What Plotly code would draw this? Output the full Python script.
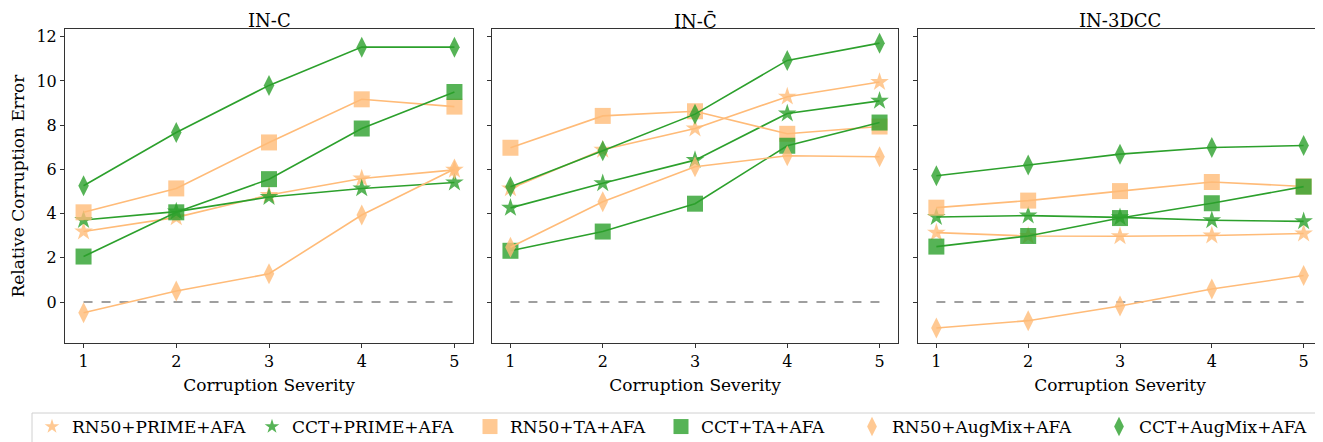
import plotly.graph_objects as go

# Reference canvas size; the page body adds an 8px offset, so the figure is
# sized to fill the remaining viewport and positions are given in reference px.
W, H = 1323, 442
OFF = 8
WF, HF = W - OFF, H - OFF

severity = [1, 2, 3, 4, 5]
tick_vals = [0, 2, 4, 6, 8, 10, 12]
tick_text = ["0", "2", "4", "6", "8", "10", "12"]
panel_titles = ["IN-C", "IN-C\u0304", "IN-3DCC"]
x_label = "Corruption Severity"
y_label = "Relative Corruption Error"

series_names = ["RN50+PRIME+AFA", "CCT+PRIME+AFA", "RN50+TA+AFA",
                "CCT+TA+AFA", "RN50+AugMix+AFA", "CCT+AugMix+AFA"]

# IN-C
inc_rn50_prime = [3.19, 3.83, 4.84, 5.59, 5.98]
inc_cct_prime = [3.71, 4.09, 4.75, 5.14, 5.41]
inc_rn50_ta = [4.06, 5.14, 7.22, 9.17, 8.84]
inc_cct_ta = [2.06, 4.06, 5.56, 7.85, 9.50]
inc_rn50_augmix = [-0.48, 0.50, 1.28, 3.94, 6.02]
inc_cct_augmix = [5.26, 7.67, 9.80, 11.53, 11.53]

# IN-C-bar
incbar_rn50_prime = [5.14, 6.89, 7.85, 9.29, 9.95]
incbar_cct_prime = [4.26, 5.37, 6.42, 8.53, 9.10]
incbar_rn50_ta = [6.98, 8.42, 8.63, 7.61, 7.94]
incbar_cct_ta = [2.32, 3.19, 4.45, 7.07, 8.12]
incbar_rn50_augmix = [2.48, 4.54, 6.12, 6.62, 6.57]
incbar_cct_augmix = [5.22, 6.84, 8.50, 10.93, 11.71]

# IN-3DCC
in3dcc_rn50_prime = [3.14, 2.99, 2.98, 3.01, 3.10]
in3dcc_cct_prime = [3.85, 3.91, 3.83, 3.70, 3.65]
in3dcc_rn50_ta = [4.27, 4.59, 5.02, 5.43, 5.23]
in3dcc_cct_ta = [2.51, 2.99, 3.80, 4.47, 5.22]
in3dcc_rn50_augmix = [-1.17, -0.84, -0.18, 0.59, 1.20]
in3dcc_cct_augmix = [5.71, 6.20, 6.69, 6.99, 7.08]

baseline = [0, 0, 0, 0, 0]

panels = [
    [inc_rn50_prime, inc_cct_prime, inc_rn50_ta, inc_cct_ta, inc_rn50_augmix, inc_cct_augmix],
    [incbar_rn50_prime, incbar_cct_prime, incbar_rn50_ta, incbar_cct_ta, incbar_rn50_augmix, incbar_cct_augmix],
    [in3dcc_rn50_prime, in3dcc_cct_prime, in3dcc_rn50_ta, in3dcc_cct_ta, in3dcc_rn50_augmix, in3dcc_cct_augmix],
]

ORANGE = "#ffbb78"
GREEN = "#2ca02c"
styles = [
    dict(color=ORANGE, symbol="star", size=14, leg=11),
    dict(color=GREEN, symbol="star", size=14, leg=11),
    dict(color=ORANGE, symbol="square", size=16, leg=15),
    dict(color=GREEN, symbol="square", size=16, leg=15),
    dict(color=ORANGE, symbol="diamond-tall", size=15, leg=14),
    dict(color=GREEN, symbol="diamond-tall", size=15, leg=14),
]

FONT = "DejaVu Serif"


def fx(px):
    return (px - OFF) / WF


def fy(py):
    return 1 - (py - OFF) / HF


# pixel layout (reference px)
x_domains_px = [(65, 473), (492, 898), (918, 1322)]
y_domain_px = (29, 343)
legend_marker_px = [56, 276, 494, 685, 876, 1123]
legend_y_px = 427

fig = go.Figure()

for p, vals in enumerate(panels):
    xa = "x" if p == 0 else f"x{p+1}"
    ya = "y" if p == 0 else f"y{p+1}"
    fig.add_trace(go.Scatter(
        x=severity, y=baseline, mode="lines",
        line=dict(color="#808080", width=1.5, dash="dash"),
        showlegend=False, hoverinfo="skip", xaxis=xa, yaxis=ya))
    for s, (name, st) in enumerate(zip(series_names, styles)):
        fig.add_trace(go.Scatter(
            x=severity, y=vals[s], mode="lines+markers", name=name,
            legendgroup=name, showlegend=False,
            line=dict(color=st["color"], width=1.6),
            marker=dict(color=st["color"], symbol=st["symbol"], size=st["size"],
                        opacity=0.8, line=dict(width=0)),
            xaxis=xa, yaxis=ya))

# marker-only legend entries (no data drawn)
for s, (name, st) in enumerate(zip(series_names, styles)):
    fig.add_trace(go.Scatter(
        x=[None], y=[None], mode="markers", name=name, legendgroup=name,
        showlegend=True, legend="legend" if s == 0 else f"legend{s+1}",
        marker=dict(color=st["color"], symbol=st["symbol"], size=st["leg"],
                    opacity=0.8, line=dict(width=0)),
        hoverinfo="skip"))

axis_common = dict(showline=True, linecolor="#333333", linewidth=1, mirror=True,
                   ticks="outside", ticklen=4, tickwidth=1, tickcolor="#333333",
                   showgrid=False, zeroline=False, automargin=False,
                   tickfont=dict(family=FONT, size=16, color="black"))

layout = dict(
    width=WF, height=HF,
    margin=dict(l=0, r=0, t=0, b=0, autoexpand=False),
    paper_bgcolor="white", plot_bgcolor="white",
    font=dict(family=FONT, size=17, color="black"),
)

for p, (x0, x1) in enumerate(x_domains_px):
    xk = "xaxis" if p == 0 else f"xaxis{p+1}"
    yk = "yaxis" if p == 0 else f"yaxis{p+1}"
    ya = "y" if p == 0 else f"y{p+1}"
    layout[xk] = dict(axis_common, domain=[fx(x0), fx(x1)], range=[0.8, 5.2],
                      tickvals=severity, anchor=ya,
                      title=dict(text=x_label, font=dict(family=FONT, size=17), standoff=8))
    yd = dict(axis_common, domain=[fy(y_domain_px[1]), fy(y_domain_px[0])],
              range=[-1.85, 12.35], tickvals=tick_vals, ticktext=tick_text,
              anchor="x" if p == 0 else f"x{p+1}")
    if p == 0:
        yd["title"] = dict(text=y_label, font=dict(family=FONT, size=17), standoff=12)
    else:
        yd["showticklabels"] = False
    layout[yk] = yd

for i, m in enumerate(legend_marker_px):
    key = "legend" if i == 0 else f"legend{i+1}"
    layout[key] = dict(orientation="h", x=fx(m - 24), xanchor="left",
                       xref="container", yref="container",
                       y=fy(legend_y_px), yanchor="middle",
                       bgcolor="rgba(0,0,0,0)", borderwidth=0,
                       font=dict(family=FONT, size=17, color="black"),
                       itemwidth=30)

fig.update_layout(**layout)

for p, (x0, x1) in enumerate(x_domains_px):
    fig.add_annotation(text=panel_titles[p], x=fx((x0 + x1) / 2), y=1,
                       xref="paper", yref="paper", xanchor="center", yanchor="top",
                       showarrow=False, font=dict(family=FONT, size=18, color="black"))

fig.add_shape(type="rect", xref="paper", yref="paper",
              x0=fx(32), x1=fx(1318), y0=-0.1, y1=fy(413),
              line=dict(color="#d0d0d0", width=1), fillcolor="rgba(0,0,0,0)", layer="below")

fig.write_html("out.html")
